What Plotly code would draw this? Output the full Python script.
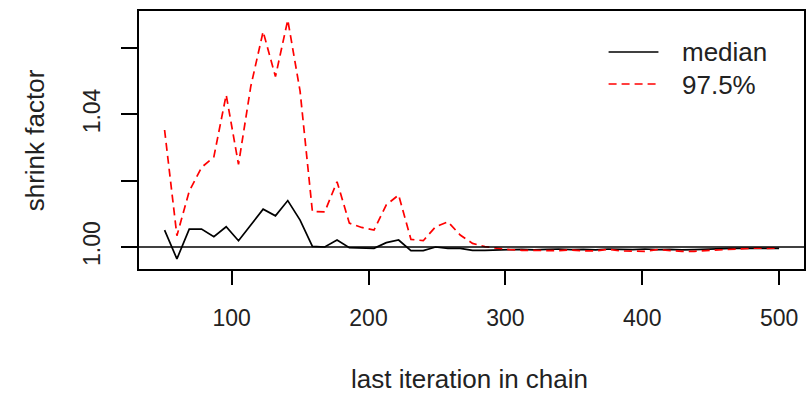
import plotly.graph_objects as go

# last iteration in chain (coda gelman.plot bins)
iters = list(range(51, 493, 9)) + [500]

median = [1.0051, 0.9964, 1.0054, 1.0054, 1.0031, 1.0061, 1.0019, 1.0066, 1.0114, 1.0094,
          1.0140, 1.0081, 1.0002, 1.0000, 1.0021, 0.9998, 0.9996, 0.9996, 1.0013, 1.0021,
          0.9989, 0.9989, 1.0000, 0.9996, 0.9996, 0.9990, 0.9990, 0.9990, 0.9992, 0.9993,
          0.9991, 0.9993, 0.9994, 0.9992, 0.9993, 0.9991, 0.9994, 0.9993, 0.9992, 0.9994,
          0.9992, 0.9993, 0.9991, 0.9992, 0.9994, 0.9996, 0.9996, 0.9996, 0.9996, 0.9996,
          0.9996]

upper = [1.0353, 1.0034, 1.0168, 1.0240, 1.0272, 1.0459, 1.0249, 1.0485, 1.0650, 1.0514,
         1.0685, 1.0470, 1.0107, 1.0106, 1.0197, 1.0072, 1.0059, 1.0051, 1.0127, 1.0157,
         1.0023, 1.0019, 1.0061, 1.0076, 1.0036, 1.0011, 1.0001, 0.9996, 0.9992, 0.9990,
         0.9989, 0.9988, 0.9989, 0.9991, 0.9988, 0.9988, 0.9993, 0.9988, 0.9988, 0.9987,
         0.9992, 0.9989, 0.9987, 0.9987, 0.9989, 0.9992, 0.9995, 0.9996, 0.9997, 0.9996,
         0.9997]

y_ticks = [1.00, 1.02, 1.04, 1.06]
y_ticktext = ["1.00", "", "1.04", ""]
x_ticks = [100, 200, 300, 400, 500]
x_ticktext = ["100", "200", "300", "400", "500"]

FONT = "Liberation Sans, Arial, sans-serif"
TXT = "#222222"
TICK_SIZE = 23
LAB_SIZE = 26

fig = go.Figure()
fig.add_trace(go.Scatter(x=iters, y=median, mode="lines",
                         line=dict(color="black", width=1.7), showlegend=False))
fig.add_trace(go.Scatter(x=iters, y=upper, mode="lines",
                         line=dict(color="#ff0000", width=1.7, dash="8px,5px"),
                         showlegend=False))

L, R, T, B = 139, 4, 11, 125
W, H = 810, 394
pw, ph = W - L - R, H - T - B

def px(xp):
    return (xp - L) / pw

def py(yp):
    return (H - B - yp) / ph

shapes = [
    dict(type="line", xref="paper", yref="y", x0=0, x1=1, y0=1.0, y1=1.0,
         line=dict(color="black", width=1.7)),
    dict(type="line", xref="paper", yref="paper", x0=px(610), x1=px(660),
         y0=py(52), y1=py(52), line=dict(color="black", width=1.7)),
    dict(type="line", xref="paper", yref="paper", x0=px(610), x1=px(660),
         y0=py(84), y1=py(84), line=dict(color="#ff0000", width=1.7, dash="8px,5px")),
]

annotations = [
    dict(text="median", xref="paper", yref="paper", x=px(682), y=py(52),
         xanchor="left", yanchor="middle", showarrow=False,
         font=dict(family=FONT, size=LAB_SIZE, color=TXT)),
    dict(text="97.5%", xref="paper", yref="paper", x=px(682), y=py(85),
         xanchor="left", yanchor="middle", showarrow=False,
         font=dict(family=FONT, size=LAB_SIZE, color=TXT)),
    dict(text="shrink factor", xref="paper", yref="paper", x=px(35), y=py(140),
         xanchor="center", yanchor="middle", textangle=-90, showarrow=False,
         font=dict(family=FONT, size=LAB_SIZE, color=TXT)),
    dict(text="last iteration in chain", xref="paper", yref="paper", x=px(470), y=py(379),
         xanchor="center", yanchor="middle", showarrow=False,
         font=dict(family=FONT, size=LAB_SIZE, color=TXT)),
]

fig.update_layout(
    width=W, height=H,
    margin=dict(l=L, r=R, t=T, b=B, pad=0),
    paper_bgcolor="white", plot_bgcolor="white",
    font=dict(family=FONT, size=TICK_SIZE, color=TXT),
    shapes=shapes, annotations=annotations,
    showlegend=False,
)
fig.update_xaxes(range=[32.3, 518.2], tickvals=x_ticks, ticktext=x_ticktext,
                 showgrid=False, zeroline=False, showline=True, mirror=True,
                 linecolor="black", linewidth=1.5, ticks="outside", ticklen=14,
                 tickwidth=1.5, tickcolor="black", tickfont=dict(size=TICK_SIZE),
                 ticklabelstandoff=14)
fig.update_yaxes(range=[0.99336, 1.0712], tickvals=y_ticks, ticktext=y_ticktext,
                 showgrid=False, zeroline=False, showline=True, mirror=True,
                 linecolor="black", linewidth=1.5, ticks="outside", ticklen=16,
                 tickwidth=1.5, tickcolor="black", tickangle=-90, tickfont=dict(size=TICK_SIZE),
                 ticklabelstandoff=12)

fig.write_html("out.html")
